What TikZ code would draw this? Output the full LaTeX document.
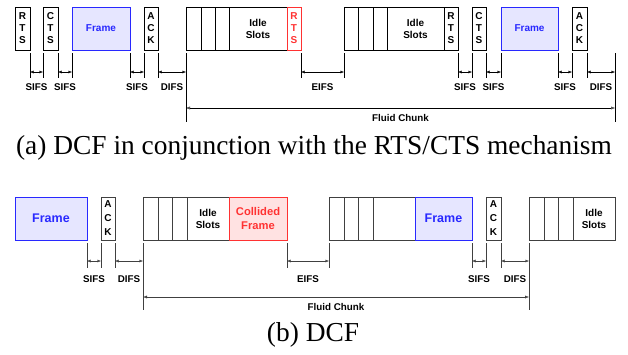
\documentclass[tikz,border=0pt]{standalone}
\usepackage{fontspec}
\setmainfont{Liberation Serif}
\setsansfont{Liberation Sans}
\usetikzlibrary{arrows.meta, positioning}
\definecolor{frmfill}{RGB}{230,230,255}
\definecolor{frmdraw}{RGB}{40,40,255}
\definecolor{colfill}{RGB}{255,226,226}
\definecolor{coldraw}{RGB}{255,50,50}
\tikzset{
    every node/.style={inner sep=1pt},
    pkt/.style={draw, line width=0.8pt, anchor=west, outer sep=0pt,
        minimum height=43pt, align=center,
        font=\sffamily\bfseries\fontsize{10}{12}\selectfont},
    frm/.style={pkt, fill=frmfill, draw=frmdraw, text=frmdraw},
    coll/.style={pkt, fill=colfill, draw=coldraw, text=coldraw},
    tickln/.style={line width=0.8pt},
    ivl/.style={thin, {Latex[length=3.5pt,width=3pt]}-{Latex[length=3.5pt,width=3pt]}},
    chunk/.style={thin, {Latex[open,length=4pt,width=3pt]}-{Latex[open,length=4pt,width=3pt]}},
    lbl/.style={font=\sffamily\bfseries\fontsize{9.8}{11}\selectfont},
    captxt/.style={font=\fontsize{27.4}{30}\selectfont}
}

\begin{document}
\begin{tikzpicture}[x=1pt, y=1pt]
    \useasboundingbox (0,0) rectangle (628,-354);

    % (a) RTS/CTS
    \node[pkt, minimum width=15pt] (rtsA1) at (15,-28.5) {R\\T\\S};
    \node[pkt, minimum width=15pt] (ctsA1) at (43,-28.5) {C\\T\\S};
    \node[frm, minimum width=58pt] (frameA1) at (72,-28.5) {Frame};
    \node[pkt, minimum width=14pt] (ackA1) at (144,-28.5) {A\\C\\K};
    \node[pkt, minimum width=15pt] (slotA1) at (186,-28.5) {};
    \node[pkt, minimum width=14pt, right=0pt of slotA1] (slotA2) {};
    \node[pkt, minimum width=14pt, right=0pt of slotA2] (slotA3) {};
    \node[pkt, minimum width=58pt, right=0pt of slotA3] (idleA1) {Idle\\Slots};
    \node[pkt, minimum width=14pt, draw=coldraw, text=coldraw, right=0pt of idleA1] (rtsA2) {R\\T\\S};
    \node[pkt, minimum width=14pt] (slotA4) at (344,-28.5) {};
    \node[pkt, minimum width=15pt, right=0pt of slotA4] (slotA5) {};
    \node[pkt, minimum width=14pt, right=0pt of slotA5] (slotA6) {};
    \node[pkt, minimum width=57pt, right=0pt of slotA6] (idleA2) {Idle\\Slots};
    \node[pkt, minimum width=14pt, right=0pt of idleA2] (rtsA3) {R\\T\\S};
    \node[pkt, minimum width=14pt] (ctsA2) at (472,-28.5) {C\\T\\S};
    \node[frm, minimum width=57pt] (frameA2) at (501,-28.5) {Frame};
    \node[pkt, minimum width=15pt] (ackA2) at (572,-28.5) {A\\C\\K};
    \coordinate (endA) at (615,-50);

    \foreach \n in {rtsA1.south east, ctsA1.south west, ctsA1.south east,
        frameA1.south west, frameA1.south east, ackA1.south west, ackA1.south east,
        rtsA2.south east, slotA4.south west, rtsA3.south east, ctsA2.south west,
        ctsA2.south east, frameA2.south west, frameA2.south east, ackA2.south west,
        ackA2.south east}
        \draw[tickln] ([yshift=-3pt]\n) -- ++(0,-25);
    \draw[tickln] ([yshift=-3pt]slotA1.south west) -- ++(0,-69);
    \draw[tickln] ([yshift=-3pt]endA) -- ++(0,-69);

    \draw[ivl] ([yshift=-22pt]rtsA1.south east) -- node[lbl, yshift=-15pt] {SIFS} ([yshift=-22pt]ctsA1.south west);
    \draw[ivl] ([yshift=-22pt]ctsA1.south east) -- node[lbl, yshift=-15pt] {SIFS} ([yshift=-22pt]frameA1.south west);
    \draw[ivl] ([yshift=-22pt]frameA1.south east) -- node[lbl, yshift=-15pt] {SIFS} ([yshift=-22pt]ackA1.south west);
    \draw[ivl] ([yshift=-22pt]ackA1.south east) -- node[lbl, yshift=-15pt] {DIFS} ([yshift=-22pt]slotA1.south west);
    \draw[ivl] ([yshift=-22pt]rtsA2.south east) -- node[lbl, yshift=-15pt] {EIFS} ([yshift=-22pt]slotA4.south west);
    \draw[ivl] ([yshift=-22pt]rtsA3.south east) -- node[lbl, yshift=-15pt] {SIFS} ([yshift=-22pt]ctsA2.south west);
    \draw[ivl] ([yshift=-22pt]ctsA2.south east) -- node[lbl, yshift=-15pt] {SIFS} ([yshift=-22pt]frameA2.south west);
    \draw[ivl] ([yshift=-22pt]frameA2.south east) -- node[lbl, yshift=-15pt] {SIFS} ([yshift=-22pt]ackA2.south west);
    \draw[ivl] ([yshift=-22pt]ackA2.south east) -- node[lbl, yshift=-15pt] {DIFS} ([yshift=-22pt]endA);
    \draw[chunk] ([yshift=-58pt]slotA1.south west) -- node[lbl, yshift=-10pt] {Fluid Chunk} ([yshift=-58pt]endA);

    \node[captxt] (capA) at (314,-148) {(a) DCF in conjunction with the RTS/CTS mechanism};

    % (b) basic access
    \begin{scope}[every path/.append style={draw=black!75}]
    \node[frm, minimum width=72pt, font=\sffamily\bfseries\fontsize{12.5}{14}\selectfont] (frameB1) at (15,-218.5) {Frame};
    \node[pkt, minimum width=14pt, font=\sffamily\bfseries\fontsize{10}{14}\selectfont] (ackB1) at (101,-218.5) {A\\C\\K};
    \node[pkt, minimum width=15pt] (slotB1) at (143,-218.5) {};
    \node[pkt, minimum width=14pt, right=0pt of slotB1] (slotB2) {};
    \node[pkt, minimum width=15pt, right=0pt of slotB2] (slotB3) {};
    \node[pkt, minimum width=42pt, right=0pt of slotB3] (idleB1) {Idle\\Slots};
    \node[coll, minimum width=58pt, font=\sffamily\bfseries\fontsize{11.2}{14}\selectfont, right=0pt of idleB1] (collB) {Collided\\Frame};
    \node[pkt, minimum width=15pt] (slotB4) at (329,-218.5) {};
    \node[pkt, minimum width=14pt, right=0pt of slotB4] (slotB5) {};
    \node[pkt, minimum width=15pt, right=0pt of slotB5] (slotB6) {};
    \node[pkt, minimum width=42pt, right=0pt of slotB6] (emptyB) {};
    \node[frm, minimum width=57pt, font=\sffamily\bfseries\fontsize{12.5}{14}\selectfont, right=0pt of emptyB] (frameB2) {Frame};
    \node[pkt, minimum width=15pt, font=\sffamily\bfseries\fontsize{10}{14}\selectfont] (ackB2) at (486,-218.5) {A\\C\\K};
    \node[pkt, minimum width=15pt] (slotB7) at (529,-218.5) {};
    \node[pkt, minimum width=14pt, right=0pt of slotB7] (slotB8) {};
    \node[pkt, minimum width=15pt, right=0pt of slotB8] (slotB9) {};
    \node[pkt, minimum width=42pt, right=0pt of slotB9] (idleB2) {Idle\\Slots};

    \foreach \n in {frameB1.south east, ackB1.south west, ackB1.south east,
        collB.south east, slotB4.south west, frameB2.south east,
        ackB2.south west, ackB2.south east}
        \draw[tickln] ([yshift=-3pt]\n) -- ++(0,-25);
    \draw[tickln] ([yshift=-3pt]slotB1.south west) -- ++(0,-67);
    \draw[tickln] ([yshift=-3pt]slotB7.south west) -- ++(0,-67);

    \draw[ivl] ([yshift=-21pt]frameB1.south east) -- node[lbl, yshift=-18pt] {SIFS} ([yshift=-21pt]ackB1.south west);
    \draw[ivl] ([yshift=-21pt]ackB1.south east) -- node[lbl, yshift=-18pt] {DIFS} ([yshift=-21pt]slotB1.south west);
    \draw[ivl] ([yshift=-21pt]collB.south east) -- node[lbl, yshift=-18pt] {EIFS} ([yshift=-21pt]slotB4.south west);
    \draw[ivl] ([yshift=-21pt]frameB2.south east) -- node[lbl, yshift=-18pt] {SIFS} ([yshift=-21pt]ackB2.south west);
    \draw[ivl] ([yshift=-21pt]ackB2.south east) -- node[lbl, yshift=-18pt] {DIFS} ([yshift=-21pt]slotB7.south west);
    \draw[thin, {Latex[length=4pt,width=3pt]}-{Latex[length=4pt,width=3pt]}] ([yshift=-57pt]slotB1.south west) -- node[lbl, yshift=-10pt] {Fluid Chunk} ([yshift=-57pt]slotB7.south west);
    \end{scope}

    \node[captxt] (capB) at (313,-335) {(b) DCF};
\end{tikzpicture}
\end{document}
